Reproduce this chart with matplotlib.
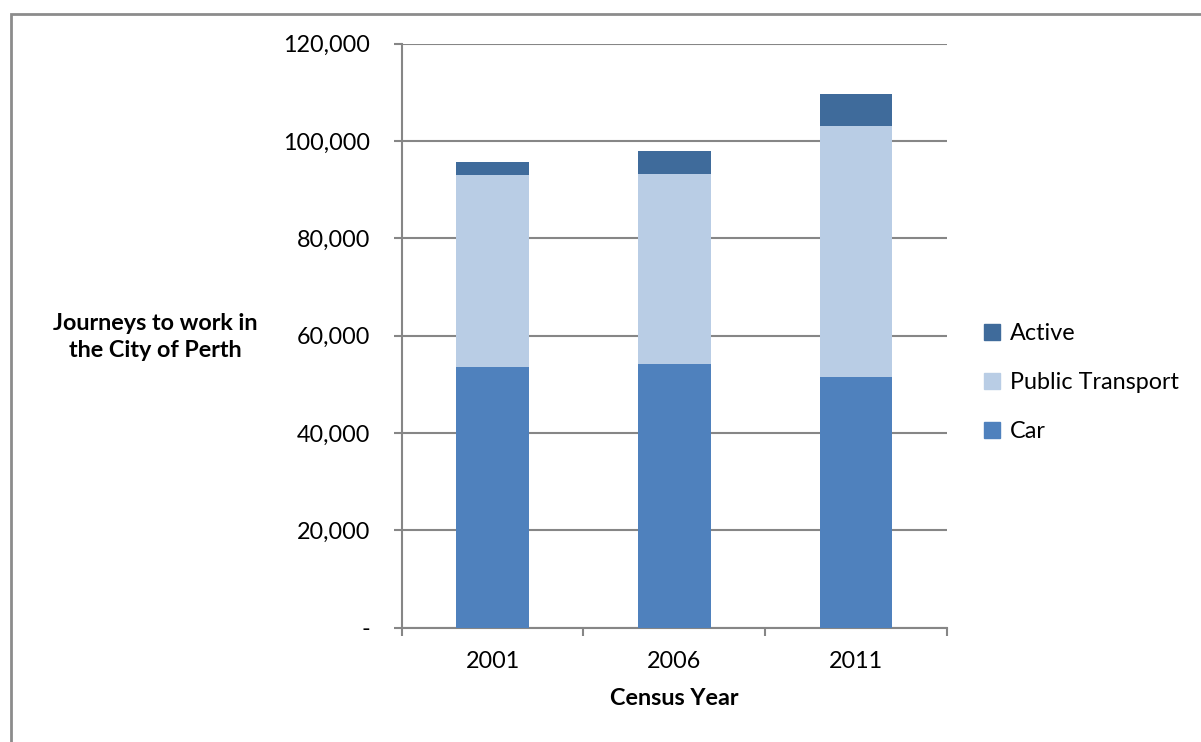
import matplotlib
matplotlib.use("Agg")
import matplotlib.pyplot as plt
from matplotlib.patches import Rectangle, Patch
from matplotlib.ticker import FuncFormatter, FixedLocator
import numpy as np

plt.rcParams['font.family'] = ['Lato', 'DejaVu Sans']

years = ["2001", "2006", "2011"]
car = [53500, 54200, 51500]
public_transport = [39460, 38900, 51500]
active = [2740, 4800, 6600]

colors = {"Car": "#4F81BD", "Public Transport": "#B9CDE5", "Active": "#3F6B9B"}
grey = "#868686"
fs = 16.8

fig = plt.figure(figsize=(12.01, 7.42), dpi=100)
ax = fig.add_axes([401.7 / 1201, 1 - 627.7 / 742, 545 / 1201, (627.7 - 43.5) / 742])

x = np.arange(len(years))
car_a = np.array(car)
pt_a = np.array(public_transport)
act_a = np.array(active)
w = 0.4
ax.bar(x, car_a, w, color=colors["Car"], zorder=3)
ax.bar(x, pt_a, w, bottom=car_a, color=colors["Public Transport"], zorder=3)
ax.bar(x, act_a, w, bottom=car_a + pt_a, color=colors["Active"], zorder=3)

ax.set_xlim(-0.5, len(years) - 0.5)
ax.set_ylim(0, 120000)
ax.set_yticks(np.arange(0, 120001, 20000))
ax.yaxis.set_major_formatter(FuncFormatter(lambda v, p: "-" if v == 0 else f"{int(v):,}"))
ax.grid(axis="y", color=grey, linewidth=1.5, zorder=0)
ax.set_axisbelow(True)

ax.set_xticks(x)
ax.set_xticklabels(years)
ax.xaxis.set_minor_locator(FixedLocator(np.arange(-0.5, len(years), 1.0)))
ax.tick_params(axis="x", which="major", length=0, pad=17, labelsize=fs)
ax.tick_params(axis="x", which="minor", length=6, width=1.5, color=grey, direction="out")
ax.tick_params(axis="y", length=6, width=1.5, color=grey, pad=17, labelsize=fs)

for s in ["top", "right"]:
    ax.spines[s].set_visible(False)
for s in ["left", "bottom"]:
    ax.spines[s].set_color(grey)
    ax.spines[s].set_linewidth(1.5)

ax.set_xlabel("Census Year", fontsize=fs, fontweight="bold", labelpad=11)
fig.text(155 / 1201, 1 - 337 / 742, "Journeys to work in\nthe City of Perth",
         ha="center", va="center", fontsize=fs, fontweight="bold", linespacing=1.4)

handles = [Patch(color=colors[k]) for k in ["Active", "Public Transport", "Car"]]
leg = fig.legend(handles, ["Active", "Public Transport", "Car"],
                 loc="center left", bbox_to_anchor=(984 / 1201, 1 - 383 / 742),
                 frameon=False, fontsize=fs, handlelength=0.7, handleheight=0.7,
                 handletextpad=0.4, labelspacing=1.2, borderaxespad=0, borderpad=0)

fig.patches.append(Rectangle((11 / 1201, -0.1), 1.2, 1 - 14 / 742 + 0.1,
                             transform=fig.transFigure, fill=False,
                             edgecolor="#8C8C8C", linewidth=2, clip_on=False))

fig.savefig("out.png", dpi=100)
